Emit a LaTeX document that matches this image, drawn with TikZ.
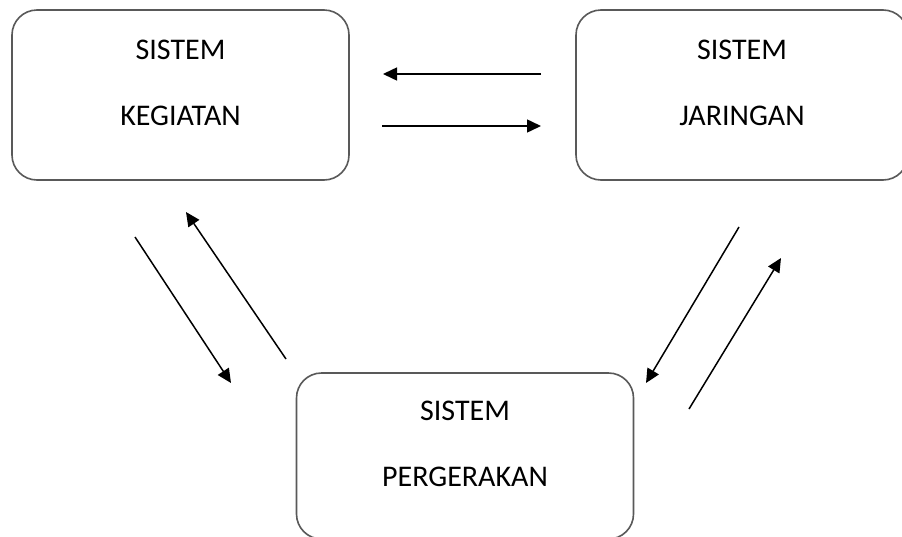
\documentclass[tikz,border=0pt]{standalone}
\usepackage{fontspec}
\setmainfont{Carlito}
\usetikzlibrary{arrows.meta}

\tikzset{
  sysbox/.style={draw=black!65, line width=1.6pt, rounded corners=25pt,
    minimum width=337pt, minimum height=170pt, inner sep=0pt, align=center,
    font=\fontsize{30}{66}\selectfont, text height=85pt, text depth=25pt},
  flow/.style={-{Triangle[length=14pt,width=13pt]}, line width=1.5pt}
}

\begin{document}
\begin{tikzpicture}[x=1pt,y=-1pt]
  \useasboundingbox (0,0) rectangle (902,536);
  \fill[white] (0,0) rectangle (902,536);

  \node[sysbox] (kegiatan) at (180.5,95) {SISTEM\\KEGIATAN};
  \node[sysbox, minimum width=332pt] (jaringan) at (742,95) {SISTEM\\JARINGAN};
  \node[sysbox, minimum height=166pt] (pergerakan) at (465,456) {SISTEM\\PERGERAKAN};

  \coordinate (jk1) at (541,74);
  \coordinate (jk2) at (383,74);
  \coordinate (kj1) at (382,126);
  \coordinate (kj2) at (541,126);

  \coordinate (kp1) at (135,237);
  \coordinate (kp2) at (231,383);
  \coordinate (pk1) at (286,359);
  \coordinate (pk2) at (186,212);

  \coordinate (jp1) at (739,227);
  \coordinate (jp2) at (646,383);
  \coordinate (pj1) at (689,409);
  \coordinate (pj2) at (781,258);

  \draw[flow] (jk1) -- (jk2);
  \draw[flow] (kj1) -- (kj2);
  \draw[flow] (kp1) -- (kp2);
  \draw[flow] (pk1) -- (pk2);
  \draw[flow] (jp1) -- (jp2);
  \draw[flow] (pj1) -- (pj2);
\end{tikzpicture}
\end{document}
